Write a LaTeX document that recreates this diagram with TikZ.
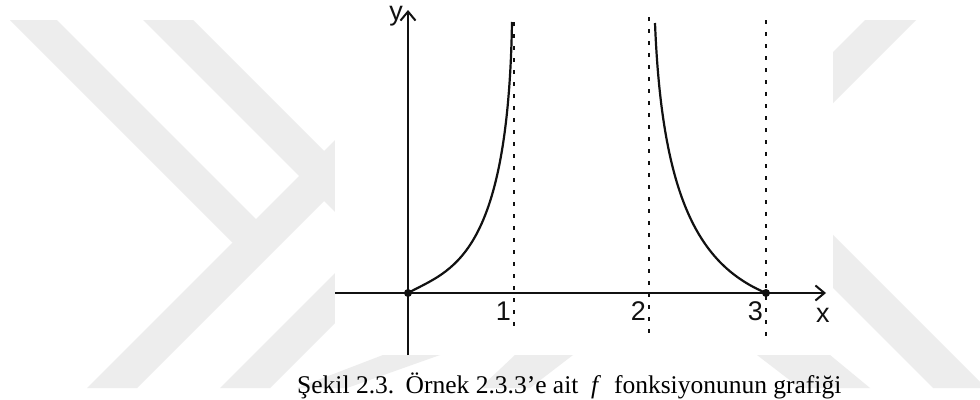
\documentclass[tikz,border=0pt]{standalone}
\usepackage{fontspec}
\setmainfont{Liberation Serif}
\newfontfamily\lsans{Liberation Sans}
\usetikzlibrary{arrows.meta}
\definecolor{wm}{HTML}{EDEDED}
\definecolor{ink}{HTML}{111111}
\tikzset{
  axisline/.style={draw=ink, line width=2pt, -{Straight Barb[length=9pt,width=15pt,line width=2pt]}},
  asym/.style={draw=ink, line width=2.2pt, dash pattern=on 4pt off 8pt},
  curveline/.style={draw=ink, line width=2.2pt},
  lab/.style={font=\lsans\fontsize{27}{27}\selectfont, text=ink, inner sep=0pt},
  dotpt/.style={circle, fill=ink, inner sep=0pt, minimum size=8pt},
  wmshape/.style={fill=wm},
}
\begin{document}
\begin{tikzpicture}[x=1pt,y=-1pt]
\useasboundingbox (0,0) rectangle (980,399);
\fill[white] (0,0) rectangle (980,399);
% watermark
\fill[wmshape] (10,20) -- (57,20) -- (281,244) -- (232.5,242.5) -- cycle;
\fill[wmshape] (87,388) -- (137,388) -- (400,125) -- (350,125) -- cycle;
\fill[wmshape] (143,20) -- (193,20) -- (400,227) -- (350,227) -- cycle;
\fill[wmshape] (220,388) -- (270,388) -- (420,238) -- (370,238) -- cycle;
\fill[wmshape] (297,388) -- (347,388) -- (440,355) -- (383,355) -- cycle;
\fill[wmshape] (480,388) -- (530,388) -- (573,355) -- (515,355) -- cycle;
\fill[wmshape] (865,20) -- (916,20) -- (700,236) -- (649,236) -- cycle;
\fill[wmshape] (700,155) -- (753,155) -- (986,388) -- (933,388) -- cycle;
\fill[wmshape] (757,355) -- (830,355) -- (870,388) -- (800,388) -- cycle;
% plot area
\fill[white] (335,0) rectangle (833,355);
\coordinate (O) at (408,293);
\coordinate (yb) at (408,355);
\coordinate (yt) at (408,10);
\coordinate (xl) at (335,293);
\coordinate (xr) at (826,293);
\coordinate (a1t) at (514,22);
\coordinate (a1b) at (514,330);
\coordinate (a2t) at (649,17);
\coordinate (a2b) at (649,336);
\coordinate (a3t) at (766,20);
\coordinate (a3b) at (766,336);
\coordinate (c1e) at (512,22);
\coordinate (c2s) at (655,23);
\coordinate (P3) at (766,293);
\draw[asym] (a1t) -- (a1b);
\draw[asym] (a2t) -- (a2b);
\draw[asym] (a3t) -- (a3b);
\draw[axisline] (yb) -- (yt);
\draw[axisline] (xl) -- (xr);
\draw[curveline] (O) .. controls (450,270) and (508,260) .. (c1e);
\draw[curveline] (c2s) .. controls (662,200) and (700,265) .. (P3);
\node[dotpt] (d0) at (O) {};
\node[dotpt] (d3) at (P3) {};
\node[lab, anchor=base east] (ylab) at (403,20) {y};
\node[lab, anchor=base west] (xlab) at (816,322) {x};
\node[lab, anchor=base east] (l1) at (511,320) {1};
\node[lab, anchor=base east] (l2) at (646,320) {2};
\node[lab, anchor=base east] (l3) at (763,320) {3};
\node[anchor=base west, inner sep=0pt, font=\fontsize{25.5}{26}\selectfont, text=black] (cap) at (297,393)
  {Şekil 2.3.\hspace{0.45em}Örnek 2.3.3’e ait\hspace{0.5em}\textit{f}\hspace{0.5em}fonksiyonunun grafiği};
\end{tikzpicture}
\end{document}
